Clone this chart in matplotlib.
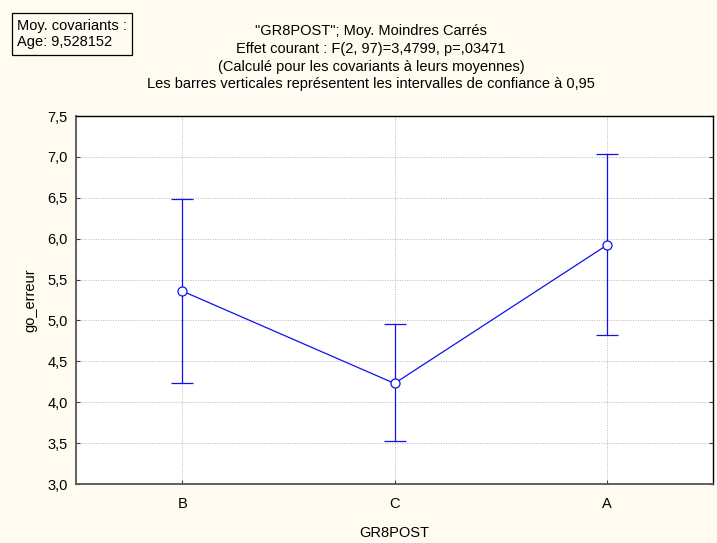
"""Least-squares means of go_erreur by GR8POST group, with 95% CIs."""

import matplotlib
matplotlib.use("Agg")
import matplotlib.pyplot as plt
from matplotlib.ticker import FuncFormatter

plt.rcParams["font.family"] = ["Liberation Sans", "DejaVu Sans"]

groups = ["B", "C", "A"]
means = [5.36, 4.23, 5.92]
ci_low = [4.24, 3.53, 4.82]
ci_high = [6.48, 4.96, 7.03]
y_ticks = [3.0, 3.5, 4.0, 4.5, 5.0, 5.5, 6.0, 6.5, 7.0, 7.5]

title_lines = [
    '"GR8POST"; Moy. Moindres Carrés',
    "Effet courant : F(2, 97)=3,4799, p=,03471",
    "(Calculé pour les covariants à leurs moyennes)",
    "Les barres verticales représentent les intervalles de confiance à 0,95",
]
cov_text = "Moy. covariants :\nAge: 9,528152"

bg = "#fffbf0"
blue = "#1010f0"
fs = 10.5

fig = plt.figure(figsize=(7.17, 5.43), dpi=100, facecolor=bg)
ax = fig.add_axes([76 / 717, 1 - 484 / 543, 637 / 717, 368 / 543])
ax.set_facecolor("white")

xs = list(range(len(groups)))
err = [[m - lo for m, lo in zip(means, ci_low)], [hi - m for m, hi in zip(means, ci_high)]]
ax.errorbar(xs, means, yerr=err, color=blue, lw=0.9, elinewidth=0.9,
            capsize=8, capthick=0.9, marker="o", ms=6.5, mfc="white",
            mec=blue, mew=0.9, zorder=3)

ax.set_xlim(-0.5, 2.5)
ax.set_ylim(3.0, 7.5)
ax.set_xticks(xs)
ax.set_xticklabels(groups)
ax.set_yticks(y_ticks)
ax.yaxis.set_major_formatter(FuncFormatter(lambda v, p: f"{v:.1f}".replace(".", ",")))
ax.grid(True, color="#b8b8b8", ls=(0, (1, 1.5)), lw=0.7, zorder=0)
ax.tick_params(axis="both", direction="in", length=3, labelsize=fs,
               colors="#404040", labelcolor="black", right=True)
ax.tick_params(axis="x", pad=9)
ax.tick_params(axis="y", pad=6)

for side in ("top", "right"):
    ax.spines[side].set_color("black")
    ax.spines[side].set_linewidth(1.0)
for side in ("left", "bottom"):
    ax.spines[side].set_color("#555555")
    ax.spines[side].set_linewidth(1.3)

ax.set_xlabel("GR8POST", fontsize=fs, labelpad=11)
ax.set_ylabel("go_erreur", fontsize=fs, labelpad=7)

for i, line in enumerate(title_lines):
    fig.text(371 / 717, 1 - (31 + i * 17.8) / 543, line, ha="center", va="center", fontsize=fs)

fig.text(17 / 717, 1 - 34 / 543, cov_text, ha="left", va="center", fontsize=fs,
         linespacing=1.27,
         bbox=dict(boxstyle="square,pad=0.35", fc=bg, ec="black", lw=0.9))

fig.savefig("out.png", dpi=100, facecolor=bg)
